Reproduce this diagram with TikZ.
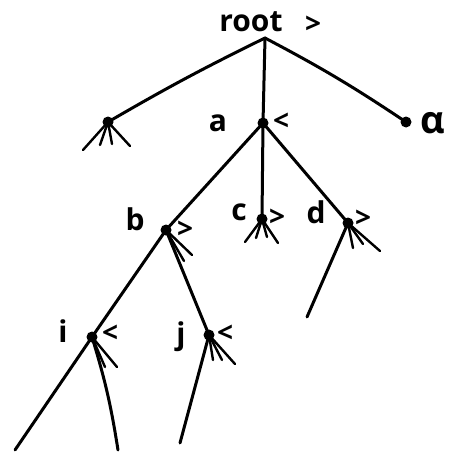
\documentclass[tikz,border=0pt]{standalone}
\usepackage{fontspec}
\setmainfont{Open Sans}
\begin{document}
\begin{tikzpicture}[x=1pt,y=-1pt,
  edge/.style={line width=3pt,line cap=round,line join=round},
  fan/.style={line width=2.4pt,line cap=round},
  blob/.style={circle,fill=black,inner sep=0pt,minimum size=11pt},
  lbl/.style={font=\fontsize{30}{30}\selectfont\bfseries,inner sep=0pt},
  sgn/.style={font=\fontsize{28}{28}\selectfont\bfseries,inner sep=0pt}]
\useasboundingbox[fill=white] (0,0) rectangle (450,452);
% tree points
\coordinate (R) at (265,38);
\node[blob] (L) at (108,122) {};
\node[blob] (a) at (263,123) {};
\node[blob] (al) at (406,122) {};
\node[blob] (b) at (166,230) {};
\node[blob] (c) at (262,219) {};
\node[blob] (d) at (348,223) {};
\node[blob] (i) at (92,337) {};
\node[blob] (j) at (209,335) {};
% labels
\node[lbl] (tR) at (251,22) {root};
\node[sgn] (mR) at (313,25) {>};
\node[lbl] (ta) at (218,123) {a};
\node[sgn] (ma) at (281,122) {<};
\node[font=\fontsize{38}{38}\selectfont\bfseries,inner sep=0pt] (tal) at (433,123) {α};
\node[lbl] (tb) at (135,219) {b};
\node[sgn] (mb) at (185,230) {>};
\node[lbl] (tc) at (239,212) {c};
\node[sgn] (mc) at (277,218) {>};
\node[lbl] (td) at (316,212) {d};
\node[sgn] (md) at (363,219) {>};
\node[lbl] (ti) at (63,331) {i};
\node[sgn] (mi) at (110,334) {<};
\node[lbl] (tj) at (181,337) {j};
\node[sgn] (mj) at (225,334) {<};
% free ends
\coordinate (L1) at (83,150);
\coordinate (L2) at (100,145);
\coordinate (L3) at (112,144);
\coordinate (L4) at (130,146);
\coordinate (c1) at (245,242);
\coordinate (c2) at (256,238);
\coordinate (c3) at (267,237);
\coordinate (c4) at (278,243);
\coordinate (d1) at (353,248);
\coordinate (d2) at (363,244);
\coordinate (d3) at (380,251);
\coordinate (dx) at (307,317);
\coordinate (b1) at (192,255);
\coordinate (b2) at (184,261);
\coordinate (i1) at (105,367);
\coordinate (i2) at (117,367);
\coordinate (ix) at (15,450);
\coordinate (iy) at (118,450);
\coordinate (j1) at (213,360);
\coordinate (j2) at (222,360);
\coordinate (j3) at (235,364);
\coordinate (jx) at (180,443);
% edges
\draw[edge] (R) to[bend right=2] (L.center);
\draw[edge] (R) -- (a.center);
\draw[edge] (R) to[bend left=3] (al.center);
\draw[edge] (a.center) -- (b.center);
\draw[edge] (a.center) -- (c.center);
\draw[edge] (a.center) -- (d.center);
\draw[edge] (b.center) -- (i.center);
\draw[edge] (b.center) -- (j.center);
\draw[edge] (d.center) -- (dx);
\draw[edge] (i.center) -- (ix);
\draw[edge] (i.center) to[bend left=4] (iy);
\draw[edge] (j.center) -- (jx);
% fans
\foreach \e in {L1,L2,L3,L4} \draw[fan] (L.center) -- (\e);
\foreach \e in {c1,c2,c3,c4} \draw[fan] (c.center) -- (\e);
\foreach \e in {d1,d2,d3} \draw[fan] (d.center) -- (\e);
\foreach \e in {b1,b2} \draw[fan] (b.center) -- (\e);
\foreach \e in {i1,i2} \draw[fan] (i.center) -- (\e);
\foreach \e in {j1,j2,j3} \draw[fan] (j.center) -- (\e);
\end{tikzpicture}
\end{document}
